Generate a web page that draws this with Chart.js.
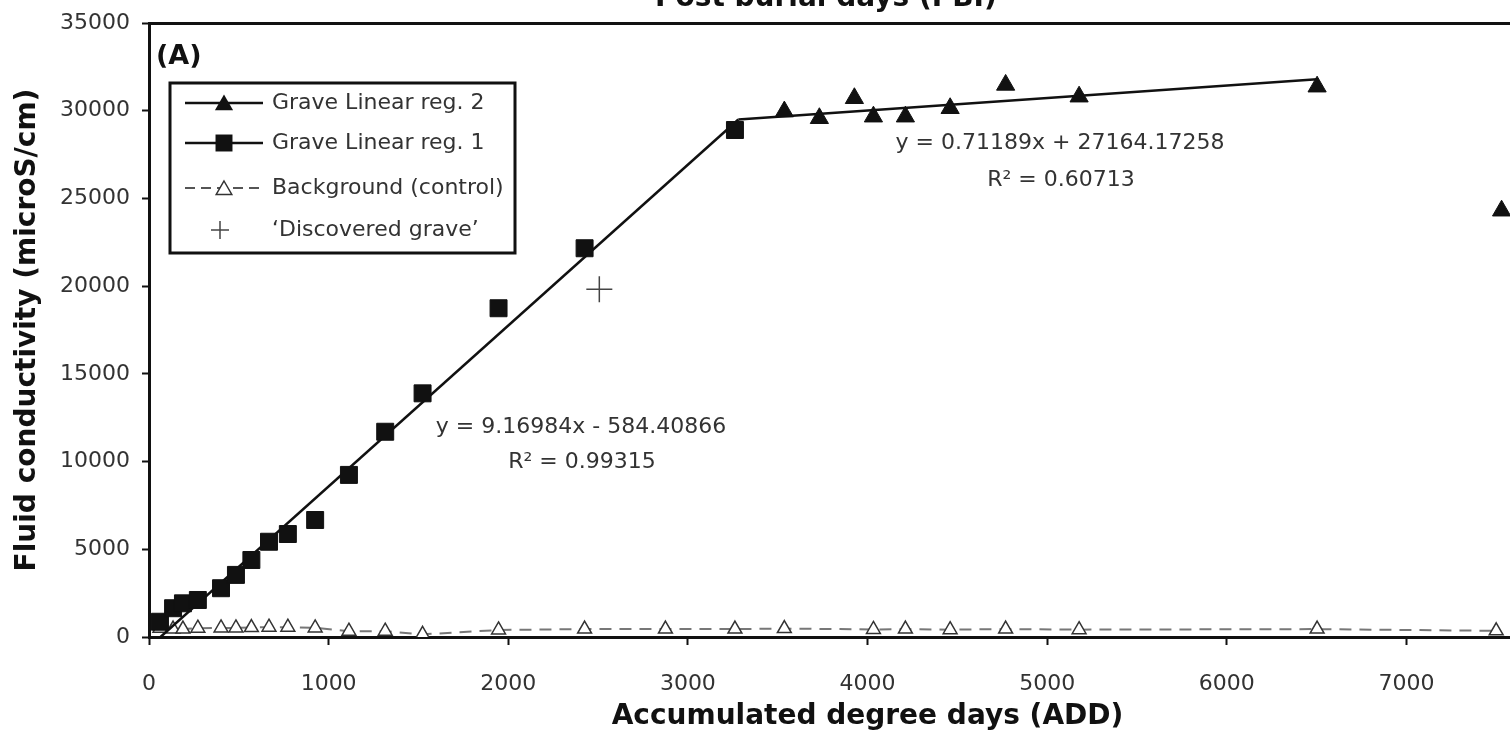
<!DOCTYPE html>
<html>
<head>
<meta charset="utf-8">
<title>Fluid conductivity vs ADD</title>
<script src="https://cdn.jsdelivr.net/npm/chart.js@4.4.1/dist/chart.umd.min.js"></script>
<style>
    html, body { margin: 0; padding: 0; background: #fff; overflow: hidden; width: 1510px; height: 734px; }
    #chart { position: absolute; left: 0; top: -40px; }
</style>
</head>
<body>
<canvas id="chart" width="1640" height="780"></canvas>
<script>
// --- data (x = ADD, y = microS/cm) ---
const graveAdd1 = [61, 134, 189, 272, 401, 484, 570, 668, 773, 925, 1113, 1315, 1523, 1946, 2425, 3262];
const graveCond1 = [870, 1640, 1920, 2110, 2780, 3540, 4390, 5430, 5870, 6670, 9240, 11700, 13890, 18740, 22160, 28900];

const graveAdd2 = [3537, 3732, 3927, 4033, 4211, 4460, 4769, 5178, 6503, 7530];
const graveCond2 = [29950, 29570, 30710, 29660, 29660, 30140, 31470, 30800, 31370, 24300];

const bgAdd = [61, 134, 189, 272, 401, 484, 570, 668, 773, 925, 1113, 1315, 1523, 1946, 2425, 2875, 3262, 3537, 4033, 4211, 4460, 4769, 5178, 6503, 7500];
const bgCond = [500, 450, 450, 500, 520, 520, 540, 560, 560, 520, 330, 330, 150, 400, 450, 450, 450, 480, 430, 450, 420, 450, 420, 450, 350];

const discoveredAdd = [2507];
const discoveredCond = [19820];

// fitted lines as printed on the figure
const trend1Add = [64, 3281];
const trend1Cond = [0, 29500];
const trend2Add = [3281, 6503];
const trend2Cond = [29500, 31793];

const xTicksMax = 8000;
const yTicksMax = 35000;

const legendLabels = ['Grave Linear reg. 2', 'Grave Linear reg. 1', 'Background (control)', '\u2018Discovered grave\u2019'];
const eq1Lines = ['y = 9.16984x - 584.40866', 'R\u00b2 = 0.99315'];
const eq2Lines = ['y = 0.71189x + 27164.17258', 'R\u00b2 = 0.60713'];

document.addEventListener('DOMContentLoaded', () => {
    const ctx = document.getElementById('chart').getContext('2d');

    const FONT = '"DejaVu Sans", sans-serif';
    const ink = '#111';
    const grey = '#333';

    const toPoints = (xs, ys) => xs.map((x, i) => ({ x: x, y: ys[i] }));

    const drawMarker = (c, style, x, y, r) => {
        c.beginPath();
        if (style === 'triangle') {
            c.moveTo(x, y - r);
            c.lineTo(x + r * 0.866, y + r / 2);
            c.lineTo(x - r * 0.866, y + r / 2);
            c.closePath();
        } else if (style === 'rect') {
            const h = r * Math.SQRT1_2;
            c.rect(x - h, y - h, 2 * h, 2 * h);
        } else if (style === 'cross') {
            c.moveTo(x - r, y);
            c.lineTo(x + r, y);
            c.moveTo(x, y - r);
            c.lineTo(x, y + r);
        }
    };

    const textPlugin = {
        id: 'textPlugin',
        afterDraw(chart) {
            const c = chart.ctx;
            c.save();

            // panel letter
            c.fillStyle = ink;
            c.textAlign = 'left';
            c.textBaseline = 'middle';
            c.font = `bold 27px ${FONT}`;
            c.fillText('(A)', 156, 97);

            // top axis title (cut by the frame)
            c.textBaseline = 'alphabetic';
            c.font = `bold 28px ${FONT}`;
            c.fillText('Post burial days (PBI)', 655, 46);

            // regression labels
            c.fillStyle = grey;
            c.textAlign = 'center';
            c.textBaseline = 'middle';
            c.font = `22px ${FONT}`;
            c.fillText(eq1Lines[0], 581, 467);
            c.fillText(eq1Lines[1], 582, 502);
            c.fillText(eq2Lines[0], 1060, 183);
            c.fillText(eq2Lines[1], 1061, 220);

            // legend box
            const box = { left: 170, top: 123, right: 515, bottom: 293 };
            c.fillStyle = '#fff';
            c.fillRect(box.left, box.top, box.right - box.left, box.bottom - box.top);
            c.strokeStyle = ink;
            c.lineWidth = 3;
            c.strokeRect(box.left, box.top, box.right - box.left, box.bottom - box.top);

            const rows = [143, 183, 228, 270];
            const lx0 = 185, lx1 = 263, mx = 224;

            // row 1: line + filled triangle
            c.setLineDash([]);
            c.lineWidth = 2.5;
            c.strokeStyle = ink;
            c.beginPath(); c.moveTo(lx0, rows[0]); c.lineTo(lx1, rows[0]); c.stroke();
            c.fillStyle = ink;
            drawMarker(c, 'triangle', mx, rows[0] + 2, 10.5); c.fill();

            // row 2: line + filled square
            c.beginPath(); c.moveTo(lx0, rows[1]); c.lineTo(lx1, rows[1]); c.stroke();
            drawMarker(c, 'rect', mx, rows[1], 12); c.fill();

            // row 3: dashed line + open triangle
            c.strokeStyle = '#555';
            c.lineWidth = 2;
            c.setLineDash([10, 6]);
            c.beginPath(); c.moveTo(lx0, rows[2]); c.lineTo(lx1, rows[2]); c.stroke();
            c.setLineDash([]);
            c.fillStyle = '#fff';
            c.strokeStyle = grey;
            c.lineWidth = 1.5;
            drawMarker(c, 'triangle', mx, rows[2] + 2, 9); c.fill(); c.stroke();

            // row 4: plus only
            c.strokeStyle = '#444';
            c.lineWidth = 1.5;
            drawMarker(c, 'cross', 220, rows[3], 9); c.stroke();

            c.fillStyle = grey;
            c.textAlign = 'left';
            c.font = `22px ${FONT}`;
            legendLabels.forEach((label, i) => c.fillText(label, 272, rows[i]));

            c.restore();
        }
    };

    const tickFont = { family: 'DejaVu Sans', size: 22 };
    const titleFont = { family: 'DejaVu Sans', size: 28, weight: 'bold' };

    new Chart(ctx, {
        type: 'scatter',
        data: {
            datasets: [
                {
                    label: 'Grave Linear reg. 2',
                    data: toPoints(graveAdd2, graveCond2),
                    pointStyle: 'triangle',
                    pointRadius: 10.5,
                    pointBackgroundColor: ink,
                    pointBorderColor: ink,
                    pointBorderWidth: 1,
                    order: 1
                },
                {
                    label: 'Grave Linear reg. 1',
                    data: toPoints(graveAdd1, graveCond1),
                    pointStyle: 'rect',
                    pointRadius: 12,
                    pointBackgroundColor: ink,
                    pointBorderColor: ink,
                    pointBorderWidth: 1,
                    order: 1
                },
                {
                    label: 'Discovered grave',
                    data: toPoints(discoveredAdd, discoveredCond),
                    pointStyle: 'cross',
                    pointRadius: 13,
                    pointBorderColor: '#444',
                    pointBorderWidth: 1.5,
                    order: 1
                },
                {
                    label: 'trend 1',
                    data: toPoints(trend1Add, trend1Cond),
                    showLine: true,
                    borderColor: ink,
                    borderWidth: 2.5,
                    pointRadius: 0,
                    order: 2
                },
                {
                    label: 'trend 2',
                    data: toPoints(trend2Add, trend2Cond),
                    showLine: true,
                    borderColor: ink,
                    borderWidth: 2.5,
                    pointRadius: 0,
                    order: 2
                },
                {
                    label: 'Background (control)',
                    data: toPoints(bgAdd, bgCond),
                    showLine: true,
                    borderColor: '#777',
                    borderWidth: 2,
                    borderDash: [12, 8],
                    pointStyle: 'triangle',
                    pointRadius: 8,
                    pointBackgroundColor: '#fff',
                    pointBorderColor: grey,
                    pointBorderWidth: 1.5,
                    order: 3
                }
            ]
        },
        options: {
            responsive: false,
            animation: false,
            devicePixelRatio: 1,
            layout: { padding: { left: 0, right: 41, top: 0, bottom: 0 } },
            plugins: {
                legend: { display: false },
                tooltip: { enabled: false }
            },
            scales: {
                x: {
                    type: 'linear',
                    position: 'bottom',
                    min: 0,
                    max: xTicksMax,
                    afterFit: (scale) => { scale.height = 103; },
                    border: { color: ink, width: 3 },
                    grid: { drawOnChartArea: false, tickLength: 8, tickColor: ink, tickWidth: 2 },
                    ticks: {
                        stepSize: 1000, padding: 26, color: grey, font: tickFont,
                        maxRotation: 0, autoSkip: false,
                        callback: (v) => String(v)
                    },
                    title: {
                        display: true, text: 'Accumulated degree days (ADD)',
                        color: ink, font: titleFont, padding: { top: 0, bottom: 6 }
                    }
                },
                x2: {
                    type: 'linear',
                    position: 'top',
                    min: 0,
                    max: xTicksMax,
                    afterFit: (scale) => { scale.height = 63; },
                    border: { color: ink, width: 3 },
                    grid: { drawOnChartArea: false, drawTicks: false },
                    ticks: { display: false }
                },
                y: {
                    min: 0,
                    max: yTicksMax,
                    afterFit: (scale) => { scale.width = 149; },
                    border: { color: ink, width: 3 },
                    grid: { drawOnChartArea: false, tickLength: 7, tickColor: ink, tickWidth: 2 },
                    ticks: {
                        stepSize: 5000, padding: 12, color: grey, font: tickFont,
                        callback: (v) => String(v)
                    },
                    title: {
                        display: true, text: 'Fluid conductivity (microS/cm)',
                        color: ink, font: titleFont, padding: { top: 11, bottom: 0 }
                    }
                }
            }
        },
        plugins: [textPlugin]
    });
});
</script>
</body>
</html>
